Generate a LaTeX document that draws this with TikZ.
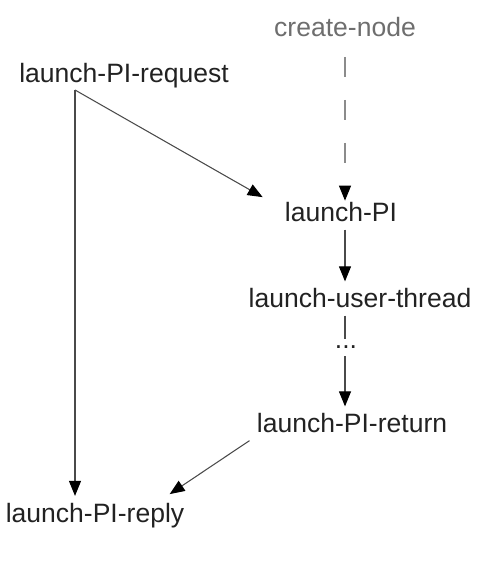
\documentclass[tikz,border=0pt]{standalone}
\usepackage{fontspec}
\setmainfont{Liberation Sans}
\usetikzlibrary{arrows.meta}
\definecolor{testo}{HTML}{222222}
\definecolor{grigio}{HTML}{6E6E6E}
\definecolor{linea}{HTML}{4A4A4A}
\begin{document}
\begin{tikzpicture}[
    lbl/.style={anchor=base, inner sep=4pt, text=testo, font=\fontsize{15.1}{18}\selectfont},
    conn/.style={draw=linea, line width=0.6pt, -{Triangle[length=8.5pt,width=6.8pt,color=black]}}]
      \useasboundingbox (0,0) rectangle (9.52,11.44);

      % Nodi
      \node[lbl, text=grigio] (cn) at (6.9,10.7) {create-node};
      \node[lbl] (request) at (2.48,9.79) {launch-PI-request};
      \node[lbl] (pi) at (6.82,7.0) {launch-PI};
      \node[lbl] (ut) at (7.2,5.28) {launch-user-thread};
      \node[lbl] (dots) at (6.92,4.46) {...};
      \node[lbl] (ret) at (7.04,2.78) {launch-PI-return};
      \node[lbl] (reply) at (1.9,0.99) {launch-PI-reply};
      \coordinate (split) at (1.5,9.64);

      % Frecce
      \draw[conn, draw=grigio!80, dash pattern=on 0.4cm off 0.46cm, shorten <=7pt, shorten >=-3pt] (cn.south) -- (cn.south |- pi.north);
      \draw[conn] (split) -- ([xshift=-8.5pt,yshift=-1pt]pi.north west);
      \draw[conn] (split) -- (split |- reply.north);
      \draw[conn] (pi.south -| 6.9,0) -- (ut.north -| 6.9,0);
      \draw[draw=linea, line width=0.6pt] (ut.south -| 6.9,0) -- (dots.north -| 6.9,0);
      \draw[conn] (dots.south -| 6.9,0) -- (ret.north -| 6.9,0);
      \draw[conn] (ret.south west) -- ([xshift=-12.5pt,yshift=1pt]reply.north east);
    \end{tikzpicture}
\end{document}
